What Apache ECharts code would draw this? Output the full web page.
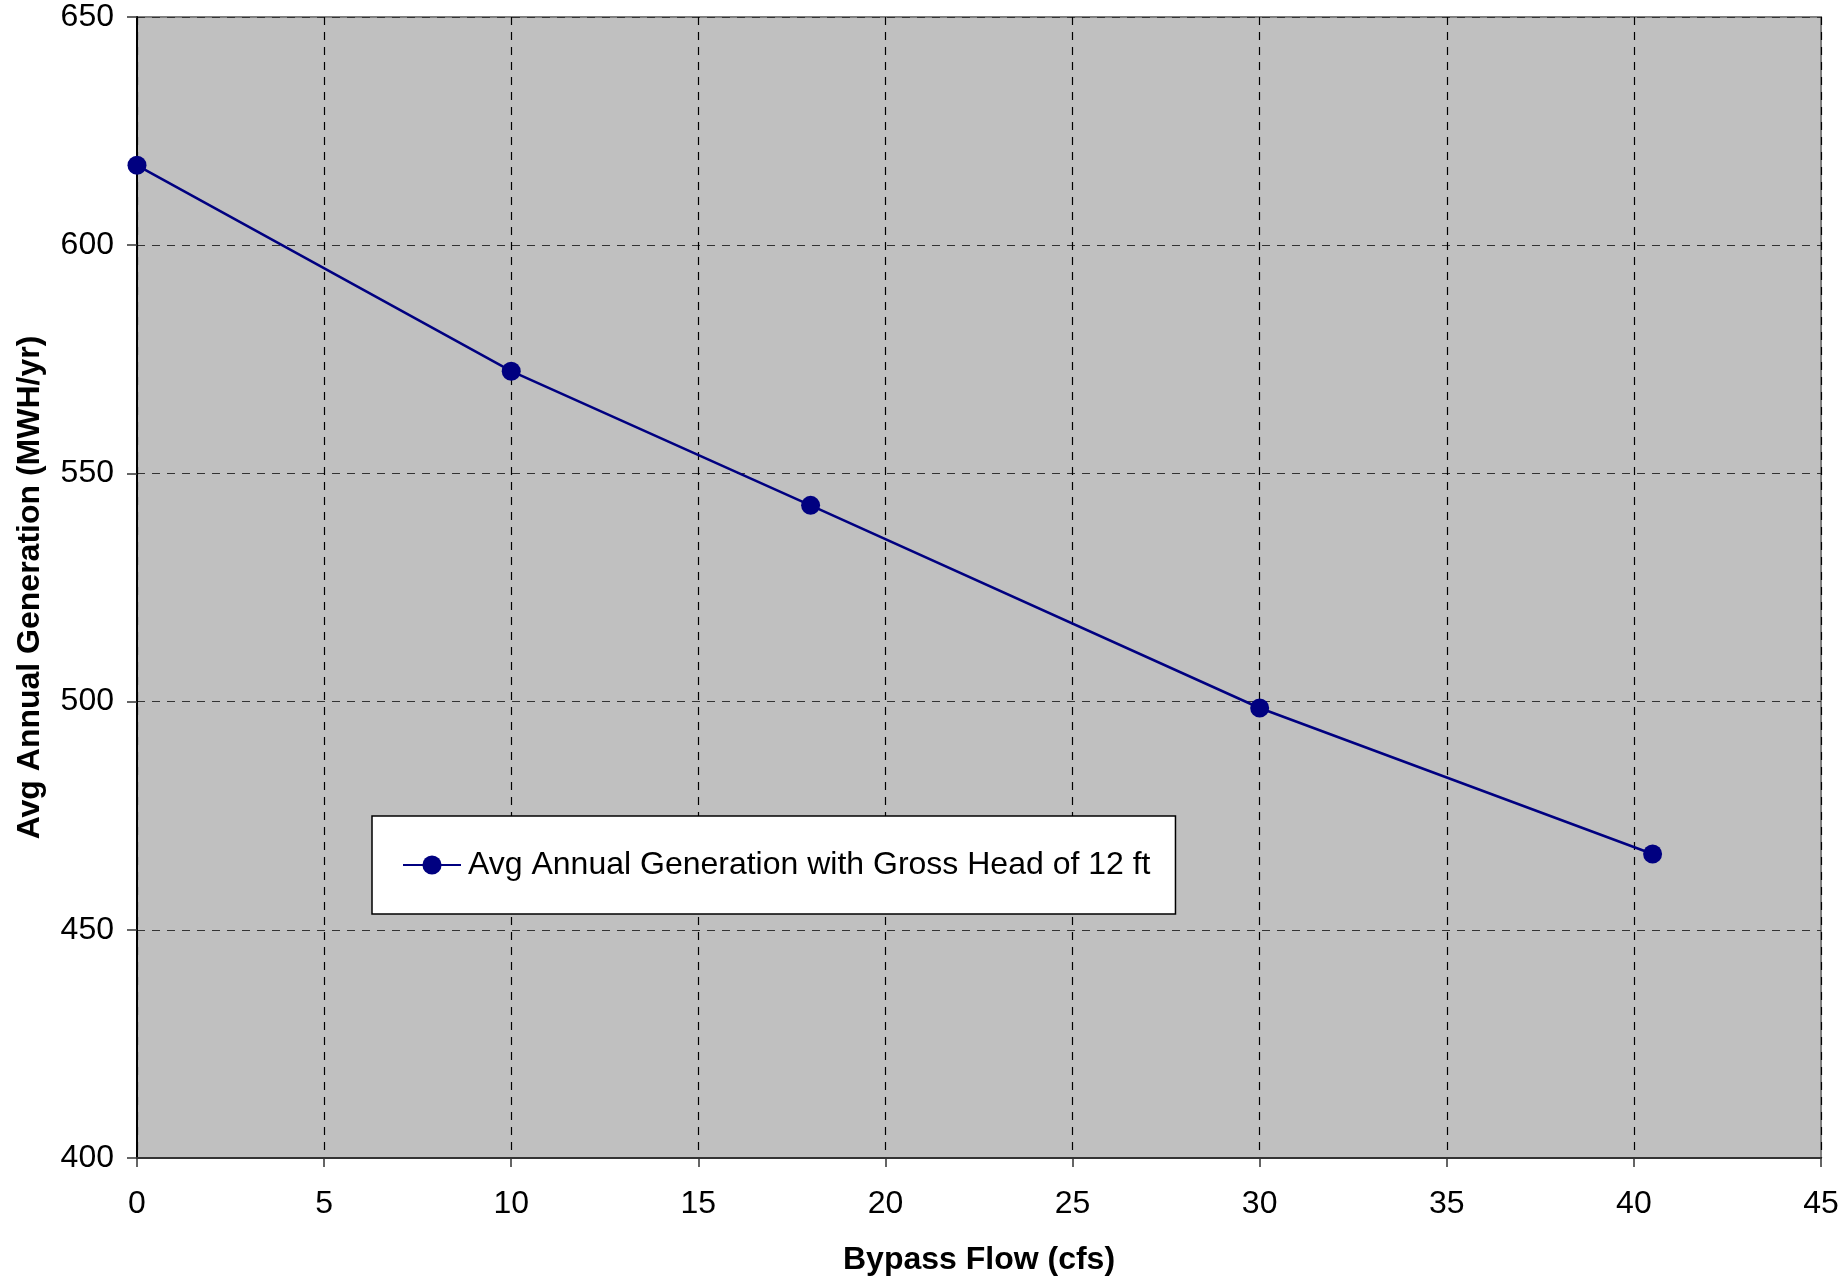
<!DOCTYPE html>
<html>
<head>
<meta charset="utf-8">
<script src="https://cdn.jsdelivr.net/npm/echarts@6/dist/echarts.min.js"></script>
<style>
html,body{margin:0;padding:0;background:#fff;}
#chart{width:1843px;height:1277px;}
</style>
</head>
<body>
<div id="chart"></div>
<script>
const seriesName = 'Avg Annual Generation with Gross Head of 12 ft';
const bypassFlow = [0, 10, 18, 30, 40.5];
const generation = [617.5, 572.4, 543.0, 498.6, 466.6];
const xTitle = 'Bypass Flow (cfs)';
const yTitle = 'Avg Annual Generation (MWH/yr)';

const FONT = '"Liberation Sans", Arial, sans-serif';
const chart = echarts.init(document.getElementById('chart'));
chart.setOption({
  animation: false,
  backgroundColor: '#ffffff',
  grid: {
    left: 137, right: 22, top: 17, bottom: 119,
    outerBoundsMode: 'none',
    containLabel: false,
    show: true, backgroundColor: '#c0c0c0',
    borderColor: '#808080', borderWidth: 2
  },
  legend: {
    show: true,
    left: 372, top: 816,
    orient: 'horizontal',
    backgroundColor: '#ffffff',
    borderColor: '#000000', borderWidth: 1.5,
    padding: [30, 25, 30, 30],
    itemWidth: 58, itemHeight: 24, itemGap: 7,
    textStyle: { fontFamily: FONT, fontSize: 32, color: '#000', lineHeight: 38, padding: [0,0,0,2] },
    data: [seriesName]
  },
  xAxis: {
    type: 'value', min: 0, max: 45, interval: 5,
    name: xTitle, nameLocation: 'middle', nameGap: 86,
    nameTextStyle: { fontFamily: FONT, fontSize: 32, fontWeight: 'bold', color: '#000' },
    axisLine: { show: true, onZero: false, lineStyle: { color: '#333', width: 2 } },
    axisTick: { show: true, length: 9, lineStyle: { color: '#333', width: 1.5 } },
    axisLabel: { fontFamily: FONT, fontSize: 32, color: '#000', margin: 30 },
    splitLine: { show: true, lineStyle: { color: '#000', type: [8, 7], width: 1.2 } }
  },
  yAxis: {
    type: 'value', min: 400, max: 650, interval: 50,
    name: yTitle, nameLocation: 'middle', nameGap: 91, nameRotate: 90,
    nameTextStyle: { fontFamily: FONT, fontSize: 32, fontWeight: 'bold', color: '#000' },
    axisLine: { show: true, onZero: false, lineStyle: { color: '#000', width: 2 } },
    axisTick: { show: true, length: 10, lineStyle: { color: '#333', width: 1.5 } },
    axisLabel: { fontFamily: FONT, fontSize: 32, color: '#000', margin: 23 },
    splitLine: { show: true, lineStyle: { color: '#333', type: [8, 7], width: 1.2 } }
  },
  series: [{
    name: seriesName,
    type: 'line',
    data: bypassFlow.map((x, i) => [x, generation[i]]),
    symbol: 'circle', symbolSize: 19,
    lineStyle: { color: '#000080', width: 2.5 },
    itemStyle: { color: '#000080' },
    clip: false
  }]
});
</script>
</body>
</html>
